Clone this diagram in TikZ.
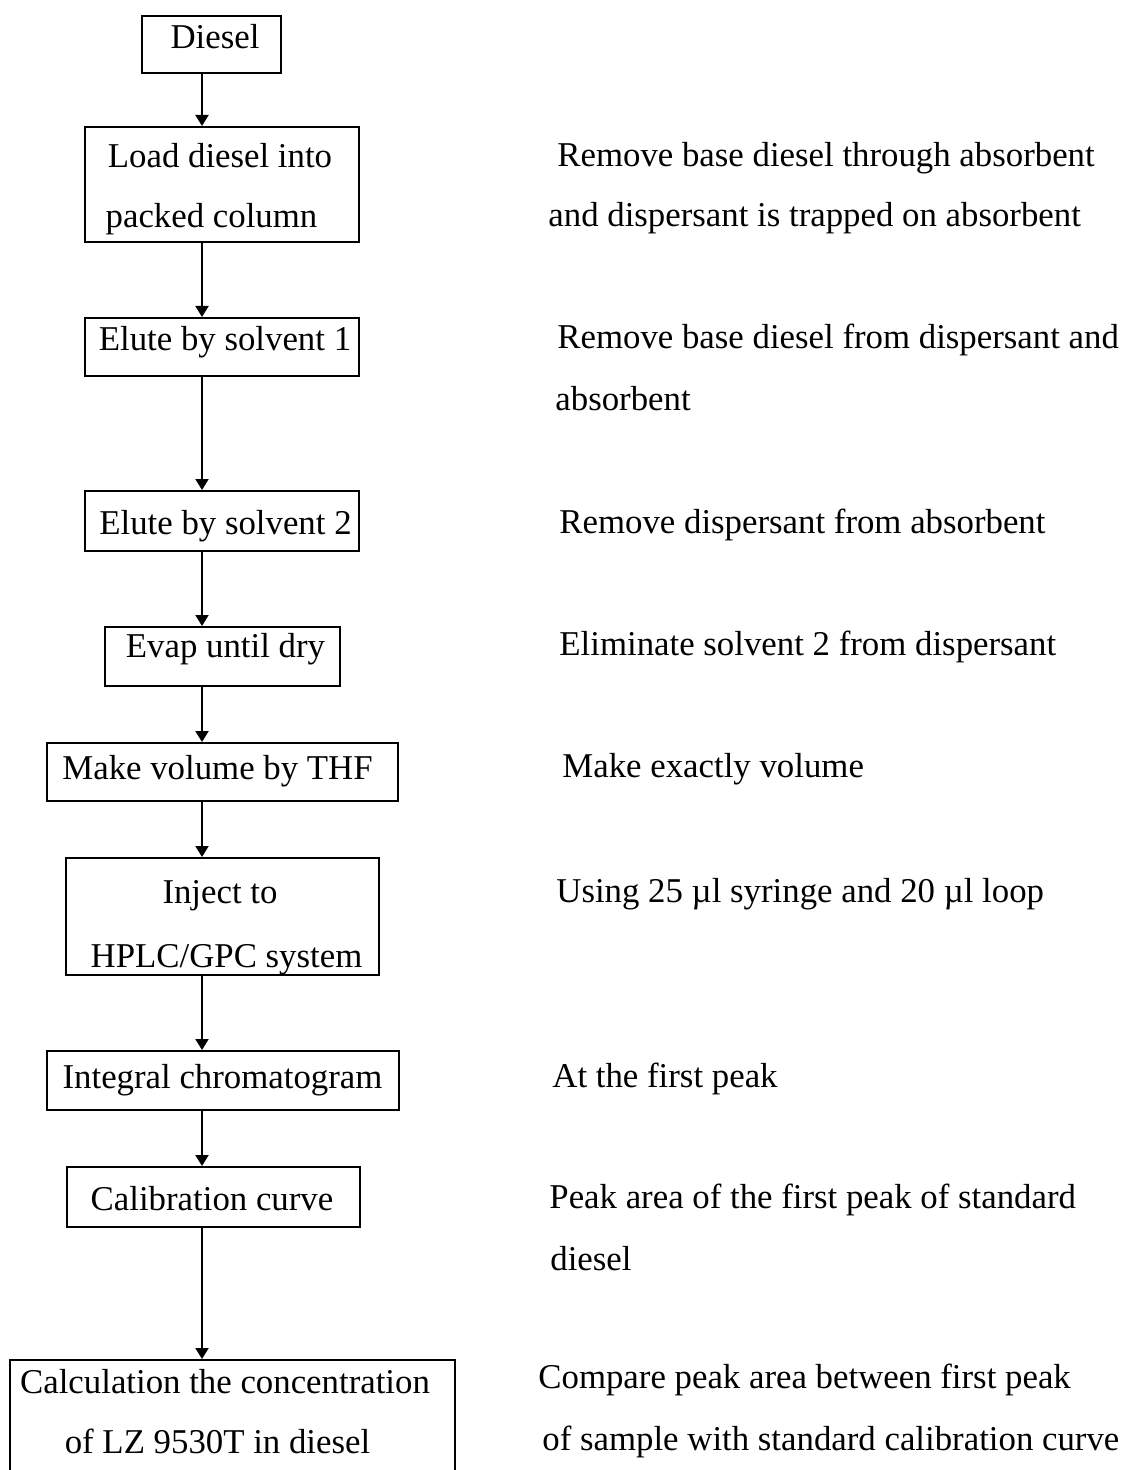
\documentclass[tikz,border=0pt]{standalone}
\usepackage{fontspec}
\setmainfont{Liberation Serif}
\usetikzlibrary{arrows.meta}
\begin{document}
\begin{tikzpicture}[x=0.5pt,y=-0.5pt,
  txt/.style={font=\fontsize{17.4}{30.5}\selectfont, inner sep=0pt},
  box/.style 2 args={draw, line width=1pt, inner sep=0pt,
    minimum width=#1*0.5pt, minimum height=#2*0.5pt},
  ln/.style={txt, anchor=base},
  note/.style={txt, anchor=base west},
  flow/.style={line width=1pt, -{Triangle[width=6.5pt,length=5.5pt]}}]
\useasboundingbox (0,0) rectangle (1122,1470);
\clip (0,0) rectangle (1122,1470);
\coordinate (ax) at (202,0);
% boxes
\node[box={139}{57}]  (diesel) at (211.5,44.5) {};
\node[box={274}{115}] (load)   at (222,184.5)  {};
\node[box={274}{58}]  (el1)    at (222,347)    {};
\node[box={274}{60}]  (el2)    at (222,521)    {};
\node[box={235}{59}]  (evap)   at (222.5,656.5){};
\node[box={351}{58}]  (make)   at (222.5,772)  {};
\node[box={313}{117}] (inj)    at (222.5,916.5){};
\node[box={352}{59}]  (integ)  at (223,1080.5) {};
\node[box={293}{60}]  (calib)  at (213.5,1197) {};
\node[box={445}{124}] (calc)   at (232.5,1422) {};
% box texts
\node[ln] (dieselT) at (215,49)    {Diesel};
\node[ln] (loadTa)  at (220,168)   {Load diesel into};
\node[ln] (loadTb)  at (211.5,228) {packed column};
\node[ln] (el1T)    at (225,351)   {Elute by solvent 1};
\node[ln] (el2T)    at (225.5,534) {Elute by solvent 2};
\node[ln] (evapT)   at (225.5,657) {Evap until dry};
\node[ln] (makeT)   at (217.5,779) {Make volume by THF};
\node[ln] (injTa)   at (220,903)   {Inject to};
\node[ln] (injTb)   at (226.5,967) {HPLC/GPC system};
\node[ln] (integT)  at (222.5,1088){Integral chromatogram};
\node[ln] (calibT)  at (212,1210)  {Calibration curve};
\node[ln] (calcTa)  at (225,1393)  {Calculation the concentration};
\node[ln] (calcTb)  at (217.5,1453){of LZ 9530T in diesel};
% arrows
\foreach \a/\b in {diesel/load,load/el1,el1/el2,el2/evap,evap/make,make/inj,inj/integ,integ/calib,calib/calc}
  \draw[flow] (\a.south -| ax) -- (\b.north -| ax);
% notes
\node[note] (n1a) at (557,167)  {Remove base diesel through absorbent};
\node[note] (n1b) at (548,227)  {and dispersant is trapped on absorbent};
\node[note] (n2a) at (557,349)  {Remove base diesel from dispersant and};
\node[note] (n2b) at (555,410)  {absorbent};
\node[note] (n3)  at (559,533)  {Remove dispersant from absorbent};
\node[note] (n4)  at (559,655)  {Eliminate solvent 2 from dispersant};
\node[note] (n5)  at (562,777)  {Make exactly volume};
\node[note] (n6)  at (556,902)  {Using 25 µl syringe and 20 µl loop};
\node[note] (n7)  at (552,1087) {At the first peak};
\node[note] (n8a) at (549,1208) {Peak area of the first peak of standard};
\node[note] (n8b) at (550,1270) {diesel};
\node[note] (n9a) at (538,1388) {Compare peak area between first peak};
\node[note] (n9b) at (542,1450) {of sample with standard calibration curve};
\end{tikzpicture}
\end{document}
